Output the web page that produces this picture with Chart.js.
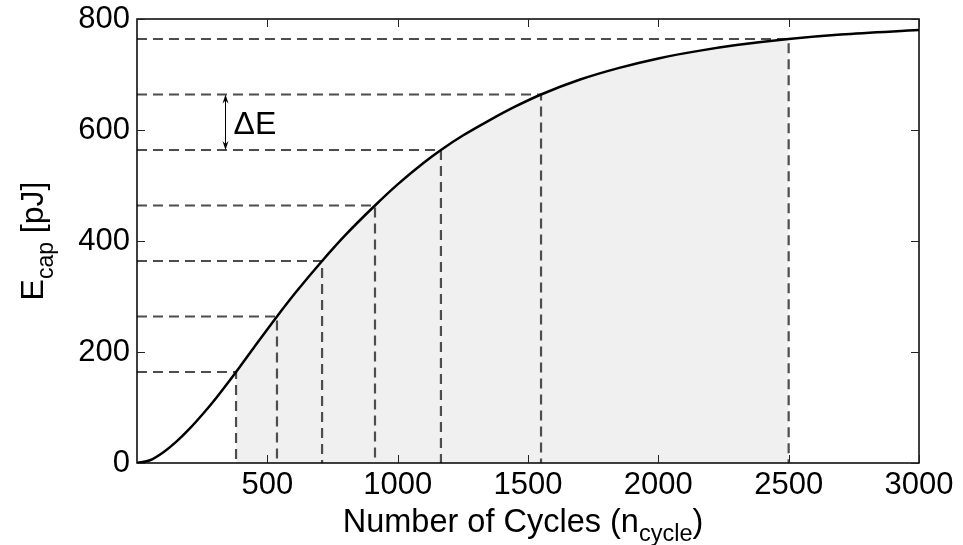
<!DOCTYPE html>
<html>
<head>
<meta charset="utf-8">
<script src="https://cdn.jsdelivr.net/npm/chart.js@4/dist/chart.umd.min.js"></script>
<style>
html,body{margin:0;padding:0;background:#fff;}
canvas{display:block;}
</style>
</head>
<body>
<canvas id="c" width="963" height="545"></canvas>
<script>
// Curve: number of cycles vs stored energy (pJ)
const cycles = [0, 50, 100, 150, 200, 250, 300, 380, 450, 537, 610, 710, 800, 913, 1000, 1100, 1166, 1250, 1350, 1450, 1550, 1700, 1850, 2000, 2160, 2300, 2500, 2700, 3000];
const energy = [0, 5, 19, 38, 61, 87, 115, 164, 209, 264, 308, 364, 411, 464, 502, 541, 564, 590, 617, 642, 664, 691, 712, 729, 743, 753, 764, 772, 780];
// Dashed guide lines: energy levels and the cycle counts where the curve reaches them
const levelE = [164, 264, 364, 464, 564, 664, 764];
const levelN = [380, 537, 710, 913, 1166, 1550, 2500];
// Shaded region bounds (cycles)
const shadeFrom = 380, shadeTo = 2500;
// Delta-E annotation
const deltaN = 337;
const deltaLow = 564, deltaHigh = 664;
const deltaLabel = "\u0394E";
// Axis ticks
const xTicks = [500, 1000, 1500, 2000, 2500, 3000];
const yTicks = [0, 200, 400, 600, 800];

const FONT = '"Liberation Sans", Arial, Helvetica, sans-serif';

const curve = cycles.map((n, i) => ({x: n, y: energy[i]}));
const shade = curve.filter(p => p.x >= shadeFrom && p.x <= shadeTo);

const datasets = [];
datasets.push({
  data: curve, borderColor: '#000', borderWidth: 2.5, pointRadius: 0,
  cubicInterpolationMode: 'monotone', fill: false, order: 1
});
levelE.forEach((e, i) => {
  datasets.push({
    data: [{x: 0, y: e}, {x: levelN[i], y: e}, {x: levelN[i], y: 0}],
    borderColor: '#4d4d4d', borderWidth: 2.2, borderDash: [10, 6], pointRadius: 0,
    tension: 0, fill: false, order: 2
  });
});
datasets.push({
  data: shade, borderWidth: 0, borderColor: 'rgba(0,0,0,0)', backgroundColor: '#f0f0f0',
  pointRadius: 0, cubicInterpolationMode: 'monotone', fill: 'origin', order: 3
});

function drawRich(ctx, parts, x, y, align) {
  let total = 0;
  parts.forEach(p => { ctx.font = p.size + 'px ' + FONT; total += ctx.measureText(p.t).width; });
  let cx = align === 'center' ? x - total / 2 : x;
  ctx.textAlign = 'left';
  ctx.textBaseline = 'alphabetic';
  parts.forEach(p => {
    ctx.font = p.size + 'px ' + FONT;
    ctx.fillText(p.t, cx, y + (p.dy || 0));
    cx += ctx.measureText(p.t).width;
  });
}

const decor = {
  id: 'decor',
  afterDraw(chart) {
    const ctx = chart.ctx;
    const xs = chart.scales.x, ys = chart.scales.y;
    const a = chart.chartArea;
    ctx.save();
    // frame
    ctx.strokeStyle = '#000';
    ctx.lineWidth = 1.5;
    ctx.strokeRect(a.left, a.top, a.right - a.left, a.bottom - a.top);
    // inward ticks
    ctx.lineWidth = 1;
    ctx.strokeStyle = '#222';
    const tl = 8;
    xTicks.forEach(v => {
      const px = Math.round(xs.getPixelForValue(v)) + 0.5;
      ctx.beginPath();
      ctx.moveTo(px, a.bottom); ctx.lineTo(px, a.bottom - tl);
      ctx.moveTo(px, a.top); ctx.lineTo(px, a.top + tl);
      ctx.stroke();
    });
    yTicks.forEach(v => {
      const py = Math.round(ys.getPixelForValue(v)) + 0.5;
      ctx.beginPath();
      ctx.moveTo(a.left, py); ctx.lineTo(a.left + tl, py);
      ctx.moveTo(a.right, py); ctx.lineTo(a.right - tl, py);
      ctx.stroke();
    });
    // delta-E arrow
    const ax = Math.round(xs.getPixelForValue(deltaN)) + 0.5;
    const y1 = ys.getPixelForValue(deltaHigh), y2 = ys.getPixelForValue(deltaLow);
    ctx.strokeStyle = '#000';
    ctx.fillStyle = '#000';
    ctx.lineWidth = 1;
    ctx.beginPath(); ctx.moveTo(ax, y1 + 2); ctx.lineTo(ax, y2 - 2); ctx.stroke();
    ctx.beginPath(); ctx.moveTo(ax, y1); ctx.lineTo(ax - 3, y1 + 9); ctx.lineTo(ax, y1 + 6); ctx.lineTo(ax + 3, y1 + 9); ctx.closePath(); ctx.fill();
    ctx.beginPath(); ctx.moveTo(ax, y2); ctx.lineTo(ax - 3, y2 - 9); ctx.lineTo(ax, y2 - 6); ctx.lineTo(ax + 3, y2 - 9); ctx.closePath(); ctx.fill();
    ctx.font = '32px ' + FONT;
    ctx.textAlign = 'left';
    ctx.textBaseline = 'alphabetic';
    ctx.fillText(deltaLabel, ax + 8, (y1 + y2) / 2 + 12);
    // axis titles
    ctx.fillStyle = '#000';
    drawRich(ctx, [
      {t: 'Number of Cycles (n', size: 32.5},
      {t: 'cycle', size: 23.5, dy: 9},
      {t: ')', size: 32.5}
    ], 523, 532, 'center');
    ctx.save();
    ctx.translate(43, 241);
    ctx.rotate(-Math.PI / 2);
    drawRich(ctx, [
      {t: 'E', size: 32},
      {t: 'cap', size: 23, dy: 10},
      {t: ' [pJ]', size: 32}
    ], 0, 0, 'center');
    ctx.restore();
    ctx.restore();
  }
};

new Chart(document.getElementById('c'), {
  type: 'line',
  data: {datasets},
  options: {
    responsive: false,
    animation: false,
    devicePixelRatio: 1,
    layout: {padding: {top: 19, right: 44, left: 0, bottom: 0}},
    plugins: {legend: {display: false}, tooltip: {enabled: false}},
    scales: {
      x: {
        type: 'linear', min: 0, max: 3000,
        afterBuildTicks: s => { s.ticks = [0].concat(xTicks).map(v => ({value: v})); },
        ticks: {
          color: '#000', padding: 4, maxRotation: 0, autoSkip: false,
          font: {size: 31, family: FONT},
          callback: v => (v === 0 ? '' : String(v))
        },
        grid: {display: false, drawTicks: false},
        border: {display: false},
        afterFit: s => { s.height = 82; s.paddingLeft = 0; s.paddingRight = 0; }
      },
      y: {
        type: 'linear', min: 0, max: 800,
        afterBuildTicks: s => { s.ticks = yTicks.map(v => ({value: v})); },
        ticks: {
          color: '#000', padding: 7,
          font: {size: 31, family: FONT}
        },
        grid: {display: false, drawTicks: false},
        border: {display: false},
        afterFit: s => { s.width = 137; s.paddingTop = 0; s.paddingBottom = 0; }
      }
    }
  },
  plugins: [decor]
});
</script>
</body>
</html>
